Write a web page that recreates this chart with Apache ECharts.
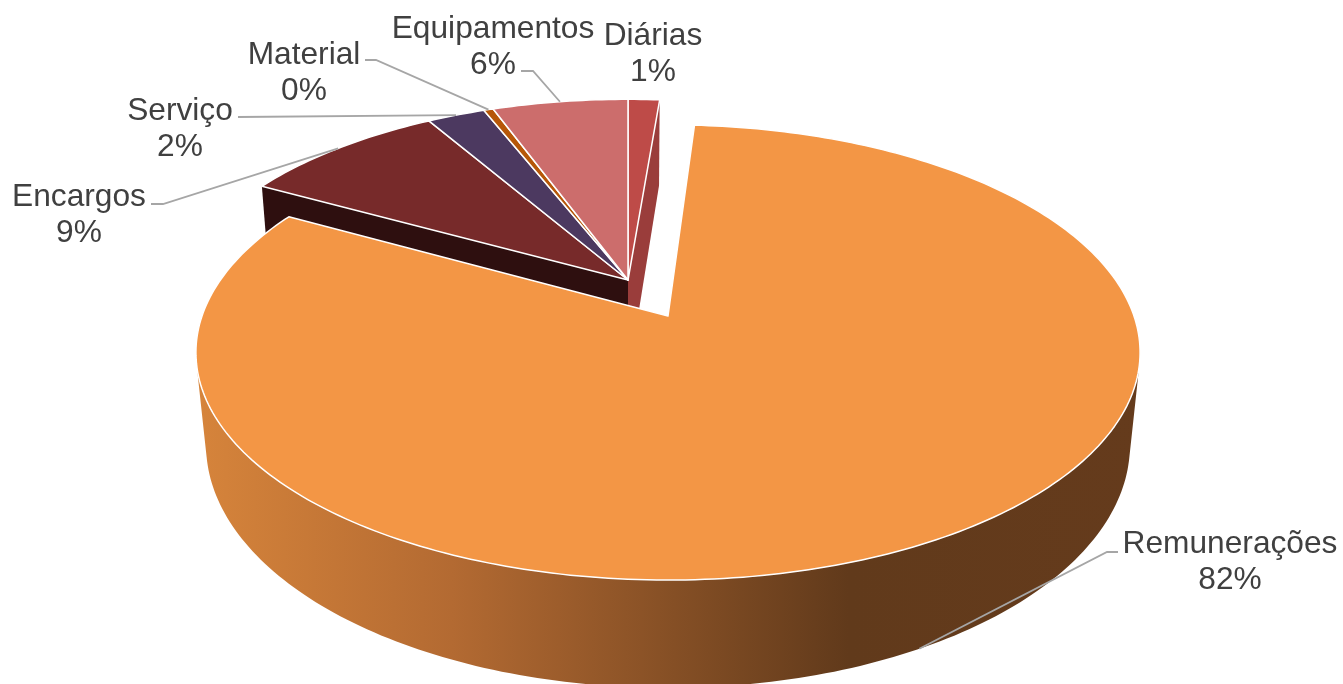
<!DOCTYPE html>
<html>
<head>
<meta charset="utf-8">
<style>html,body{margin:0;padding:0;background:#fff}#c{width:1343px;height:684px}</style>
<script src="https://cdn.jsdelivr.net/npm/echarts@6/dist/echarts.min.js"></script>
</head>
<body>
<div id="c"></div>
<script>
// ---- data, clockwise from 12 o'clock ----
const categories = ['Diárias', 'Remunerações', 'Encargos', 'Serviço', 'Material', 'Equipamentos'];
const values = [1.3, 81.7, 8.6, 2.4, 0.4, 5.6];

// ---- styles ----
const topColors = ['#BE4B48', '#F39645', '#772A2A', '#4C3960', '#B65708', '#CC6D6C'];
const radialWallColors = { 'Diárias': '#9A3D3B', 'Encargos': '#2E0F0F' };
const textColor = '#404040', leaderColor = '#A6A6A6';

// ---- layout: label centres and the label-side points of the leader lines ----
const labelCenters = [[653, 54], [1230, 562], [79, 215], [180, 129], [304, 73], [493, 47]];
const leaderStarts = [null, [[1118, 552], [1107, 552]], [[151, 204], [163, 204]], [[238, 117]], [[365, 60], [376, 60]], [[521, 71], [533, 71]]];

// perspective discs: k = foreshortening
const k = 0.16;
const bodyGeom = { ax: 628, ay: 280, A: 450, B: 209.6, by: 378, A2: 441, B2: 223.8, trim: 0 };
const explodedGeom = { ax: 668, ay: 316, A: 466, B: 221.8, by: 406, A2: 456, B2: 236.8, trim: 0.9 };
const explodedIndex = 1;

function project(deg, ax, ay, A, B) {
  const t = deg * Math.PI / 180, u = Math.sin(t), v = -Math.cos(t), w = 1 - k * v;
  return [ax + A * u / w, ay + B * v / w];
}
const topPt = (g, d) => project(d, g.ax, g.ay, g.A, g.B);
const botPt = (g, d) => project(d, g.ax, g.by, g.A2, g.B2);
function arc(fn, g, a, b) {
  const pts = [], n = Math.max(2, Math.ceil(Math.abs(b - a)));
  for (let i = 0; i <= n; i++) pts.push(fn(g, a + (b - a) * i / n));
  return pts;
}

const total = values.reduce((s, x) => s + x, 0);
const starts = [];
values.reduce((acc, x, i) => { starts[i] = acc; return acc + x; }, 0);
const angleOf = x => x / total * 360;

const sideGradient = {
  type: 'linear', global: true, x: 197, y: 0, x2: 1141, y2: 0,
  colorStops: [
    { offset: 0, color: '#D6843B' },
    { offset: 0.27, color: '#B36A32' },
    { offset: 0.69, color: '#613A1B' },
    { offset: 1, color: '#653B1C' }
  ]
};

function renderItem(params, api) {
  const i = api.value(0), val = api.value(1);
  const a0 = angleOf(starts[i]), a1 = a0 + angleOf(val), mid = (a0 + a1) / 2;
  const exploded = i === explodedIndex;
  const g = exploded ? explodedGeom : bodyGeom;
  const name = categories[i];
  const kids = [];
  const base = exploded ? 3 : 1;

  // radial walls of the main body
  if (radialWallColors[name]) {
    const d = name === 'Encargos' ? a0 : a1;
    kids.push({
      type: 'polygon', z2: base,
      shape: { points: [[g.ax, g.ay], topPt(g, d), botPt(g, d), [g.ax, g.by]] },
      style: { fill: radialWallColors[name], stroke: 'none' }
    });
  }
  // outer wall of the exploded slice
  if (exploded) {
    const from = 102, to = 258;
    kids.push({
      type: 'polygon', z2: base,
      shape: { points: arc(topPt, g, from, to).concat(arc(botPt, g, to, from)) },
      style: { fill: sideGradient, stroke: 'none' }
    });
  }
  // top face
  kids.push({
    type: 'polygon', z2: base + 1,
    shape: { points: [[g.ax, g.ay]].concat(arc(topPt, g, a0 - g.trim, a1)) },
    style: { fill: topColors[i], stroke: '#FFFFFF', lineWidth: 1.5, lineJoin: 'round' }
  });
  // leader line
  if (leaderStarts[i]) {
    const end = exploded ? botPt(g, mid) : topPt(g, mid);
    kids.push({
      type: 'polyline', z2: 5,
      shape: { points: leaderStarts[i].concat([end]) },
      style: { fill: 'none', stroke: leaderColor, lineWidth: 1.8 }
    });
  }
  // label
  kids.push({
    type: 'text', z2: 6,
    style: {
      x: labelCenters[i][0], y: labelCenters[i][1],
      text: name + '\n' + Math.round(val) + '%',
      fill: textColor, fontSize: 31.7, lineHeight: 36,
      fontFamily: '"Liberation Sans", Arial, sans-serif',
      align: 'center', verticalAlign: 'middle'
    }
  });
  return { type: 'group', children: kids };
}

const chart = echarts.init(document.getElementById('c'), null, { renderer: 'canvas' });
chart.setOption({
  animation: false,
  backgroundColor: '#FFFFFF',
  series: [{
    type: 'custom',
    coordinateSystem: 'none',
    renderItem: renderItem,
    silent: true,
    data: categories.map((c, i) => ({ name: c, value: [i, values[i]] }))
  }]
});
</script>
</body>
</html>
